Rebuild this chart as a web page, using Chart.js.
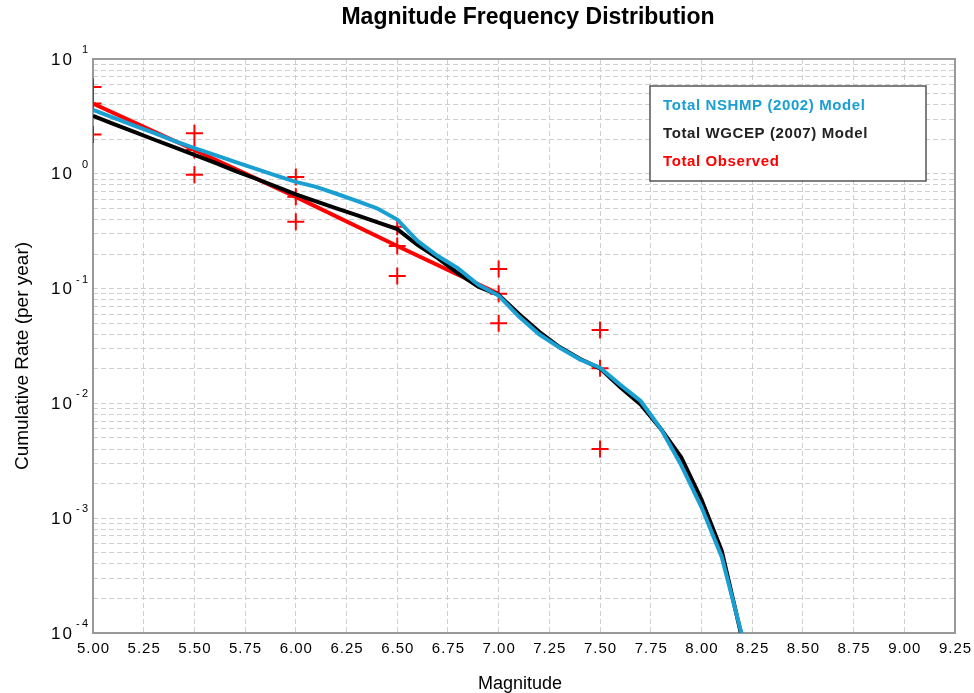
<!DOCTYPE html>
<html>
<head>
<meta charset="utf-8">
<title>Magnitude Frequency Distribution</title>
<script src="https://cdn.jsdelivr.net/npm/chart.js@4/dist/chart.umd.min.js"></script>
<style>
  html, body { margin: 0; padding: 0; background: #fff; }
  #wrap { width: 974px; height: 693px; }
</style>
</head>
<body>
<div id="wrap"><canvas id="mfd"></canvas></div>
<script>
/* ── Data ─────────────────────────────────────────────────── */
const magnitudes = [5.0, 5.1, 5.2, 5.3, 5.4, 5.5, 5.6, 5.7, 5.8, 5.9,
                    6.0, 6.1, 6.2, 6.3, 6.4, 6.5, 6.6, 6.7, 6.8, 6.9,
                    7.0, 7.1, 7.2, 7.3, 7.4, 7.5, 7.6, 7.7, 7.8, 7.9,
                    8.0, 8.1, 8.2];

const nshmpRates = [3.6, 3.08, 2.64, 2.27, 1.94, 1.67, 1.46, 1.27, 1.11, 0.97,
                    0.85, 0.77, 0.67, 0.58, 0.50, 0.40, 0.26, 0.192, 0.150, 0.108,
                    0.087, 0.057, 0.040, 0.0306, 0.0242, 0.0205, 0.0145, 0.0105, 0.006, 0.0029,
                    0.00125, 0.00046, 0.000095];

const wgcepRates = [3.19, 2.72, 2.33, 1.99, 1.71, 1.46, 1.25, 1.06, 0.91, 0.776,
                    0.663, 0.575, 0.50, 0.436, 0.38, 0.33, 0.24, 0.184, 0.136, 0.104,
                    0.088, 0.060, 0.042, 0.031, 0.0245, 0.0202, 0.0138, 0.0098, 0.006, 0.0034,
                    0.00145, 0.00052, 0.00009];

// observed rates with their upper / lower bounds (crosses)
const obsMags  = [5.0, 5.5, 6.0, 6.5, 7.0, 7.5];
const obsRates = [4.1, 1.61, 0.63, 0.235, 0.09, 0.0202];
const obsUpper = [5.7, 2.25, 0.94, 0.346, 0.148, 0.0435];
const obsLower = [2.2, 0.98, 0.383, 0.129, 0.0499, 0.004];
// the red fit line only runs to M 7.0
const obsLineMags  = [5.0, 5.5, 6.0, 6.5, 7.0];
const obsLineRates = [4.1, 1.61, 0.63, 0.235, 0.09];

const xTicks = [5.00, 5.25, 5.50, 5.75, 6.00, 6.25, 6.50, 6.75, 7.00, 7.25,
                7.50, 7.75, 8.00, 8.25, 8.50, 8.75, 9.00, 9.25];
const yExponents = [1, 0, -1, -2, -3, -4];

const seriesLabels = ['Total NSHMP (2002) Model', 'Total WGCEP (2007) Model', 'Total Observed'];
const seriesColors = ['#1a9fd2', '#000000', '#ff0000'];

const FONT = "'Liberation Sans', Arial, sans-serif";

/* ── Helpers ──────────────────────────────────────────────── */
const pts = (xs, ys) => xs.map((x, i) => ({ x, y: ys[i] }));

// every 1..9 x 10^k tick, for the dashed log grid
function logGridTicks() {
  const ticks = [];
  for (let k = -4; k <= 0; k++) {
    for (let m = 1; m <= 9; m++) ticks.push({ value: m * Math.pow(10, k) });
  }
  ticks.push({ value: 10 });
  return ticks;
}

/* ── Labels, frame and legend ─────────────────────────────── */
const decorations = {
  id: 'decorations',
  beforeDatasetsDraw(chart) {
    const { ctx, chartArea: a } = chart;
    ctx.save();
    ctx.strokeStyle = '#999';
    ctx.lineWidth = 2;
    ctx.strokeRect(a.left, a.top, a.right - a.left, a.bottom - a.top);
    ctx.restore();
  },
  afterDraw(chart) {
    const { ctx, chartArea: a, scales } = chart;
    ctx.save();
    ctx.fillStyle = '#000';

    // title
    ctx.font = `bold 23px ${FONT}`;
    ctx.textAlign = 'center';
    ctx.textBaseline = 'middle';
    ctx.fillText('Magnitude Frequency Distribution', 528, 18);

    // x tick labels
    ctx.font = `15px ${FONT}`;
    ctx.letterSpacing = '1px';
    xTicks.forEach(v => {
      ctx.fillText(v.toFixed(2), scales.x.getPixelForValue(v) + 0.5, 649);
    });
    ctx.letterSpacing = '0px';

    // y tick labels, 10 with a raised exponent
    yExponents.forEach(e => {
      const y = scales.y.getPixelForValue(Math.pow(10, e));
      ctx.textAlign = 'right';
      ctx.font = `17px ${FONT}`;
      ctx.letterSpacing = '2px';
      ctx.fillText('10', 74, y + 1);
      ctx.letterSpacing = '0px';
      ctx.textAlign = 'left';
      ctx.font = `11px ${FONT}`;
      if (e < 0) {
        ctx.fillText('-', 76, y - 9);
        ctx.fillText(String(-e), 82, y - 9);
      } else {
        ctx.fillText(String(e), 82, y - 9);
      }
    });

    // axis titles
    ctx.textAlign = 'center';
    ctx.textBaseline = 'alphabetic';
    ctx.font = `18px ${FONT}`;
    ctx.fillText('Magnitude', 520, 689);
    ctx.save();
    ctx.translate(28, 356);
    ctx.rotate(-Math.PI / 2);
    ctx.font = `19px ${FONT}`;
    ctx.fillText('Cumulative Rate (per year)', 0, 0);
    ctx.restore();

    // legend box
    const lx = 650, ly = 86, lw = 276, lh = 95;
    ctx.fillStyle = '#fff';
    ctx.fillRect(lx, ly, lw, lh);
    ctx.strokeStyle = '#555';
    ctx.lineWidth = 1.5;
    ctx.strokeRect(lx, ly, lw, lh);
    ctx.font = `bold 15px ${FONT}`;
    ctx.letterSpacing = '0.6px';
    ctx.textAlign = 'left';
    ctx.textBaseline = 'middle';
    seriesLabels.forEach((label, i) => {
      ctx.fillStyle = seriesColors[i] === '#000000' ? '#222' : seriesColors[i];
      ctx.fillText(label, 663, 106 + i * 28);
    });
    ctx.restore();
  }
};

/* ── Chart ────────────────────────────────────────────────── */
const crossPoints = {
  pointStyle: 'cross',
  pointRadius: 8.5,
  pointBorderWidth: 2,
  pointBorderColor: '#ff0000',
  pointHoverRadius: 8.5
};

new Chart(document.getElementById('mfd'), {
  type: 'scatter',
  data: {
    datasets: [
      {
        label: seriesLabels[0],
        data: pts(magnitudes, nshmpRates),
        showLine: true,
        borderColor: seriesColors[0],
        borderWidth: 4,
        pointRadius: 0,
        tension: 0
      },
      {
        label: seriesLabels[1],
        data: pts(magnitudes, wgcepRates),
        showLine: true,
        borderColor: seriesColors[1],
        borderWidth: 4,
        pointRadius: 0,
        tension: 0
      },
      {
        label: seriesLabels[2],
        data: pts(obsLineMags, obsLineRates),
        showLine: true,
        borderColor: seriesColors[2],
        borderWidth: 4,
        pointRadius: 0,
        tension: 0
      },
      {
        label: 'Observed',
        data: pts(obsMags, obsRates),
        showLine: false,
        ...crossPoints
      },
      {
        label: 'Observed upper',
        data: pts(obsMags, obsUpper),
        showLine: false,
        ...crossPoints
      },
      {
        label: 'Observed lower',
        data: pts(obsMags, obsLower),
        showLine: false,
        ...crossPoints
      }
    ]
  },
  options: {
    responsive: true,
    maintainAspectRatio: false,
    animation: false,
    layout: { padding: { left: 93, right: 19, top: 59, bottom: 60 } },
    plugins: {
      legend: { display: false },
      title: { display: false },
      tooltip: { enabled: false }
    },
    scales: {
      x: {
        type: 'linear',
        min: 5,
        max: 9.25,
        afterBuildTicks: s => { s.ticks = xTicks.map(v => ({ value: v })); },
        ticks: { display: false },
        border: { display: false, dash: [5, 3] },
        grid: { color: '#cfcfcf', lineWidth: 1, drawTicks: false }
      },
      y: {
        type: 'logarithmic',
        min: 1e-4,
        max: 10,
        afterBuildTicks: s => { s.ticks = logGridTicks(); },
        ticks: { display: false },
        border: { display: false, dash: [5, 3] },
        grid: { color: '#cfcfcf', lineWidth: 1, drawTicks: false }
      }
    }
  },
  plugins: [decorations]
});
</script>
</body>
</html>
